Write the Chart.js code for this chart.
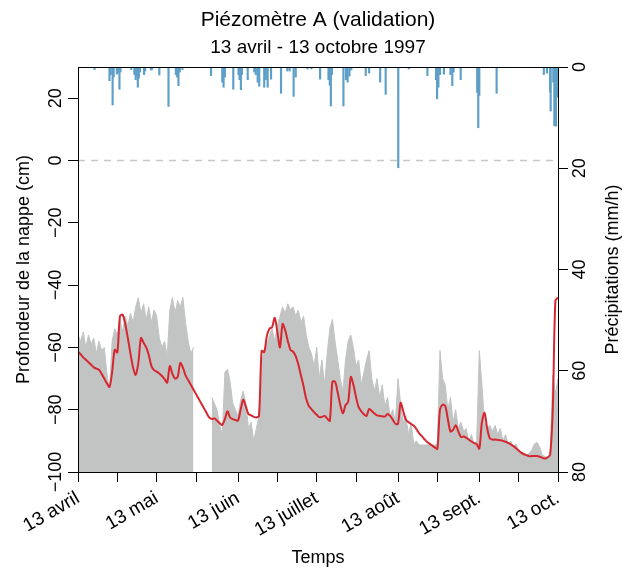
<!DOCTYPE html>
<html lang="fr">
<head>
<meta charset="utf-8">
<title>Piézomètre A (validation)</title>
<script src="https://cdn.jsdelivr.net/npm/chart.js@4.4.1/dist/chart.umd.min.js"></script>
<style>
  html, body { margin: 0; padding: 0; background: #fff; }
  #wrap { width: 622px; height: 570px; }
</style>
</head>
<body>
<div id="wrap"><canvas id="piezoChart" width="622" height="570"></canvas></div>
<script>
// Axe du temps : jours écoulés depuis le 13 avril 1997
const tickDays = [0, 15, 30, 45, 61, 76, 91, 106, 122, 137, 153, 168, 183];
const labelDays = [0, 30, 61, 91, 122, 153, 183];
const labelTexts = ['13 avril', '13 mai', '13 juin', '13 juillet', '13 août', '13 sept.', '13 oct.'];
const depthTicks = [-100, -80, -60, -40, -20, 0, 20];
const rainTicks = [0, 20, 40, 60, 80];

// Niveau observé de la nappe (cm), un point par jour
const observedDepth = [
  -61.4, -62.2, -63.2, -64, -64.8, -65.6, -66.4, -66.8, -67.2, -68.5,
  -70, -71.5, -72.7, -68, -60.8, -61.6, -50, -49.5, -52.5, -57,
  -62, -66.5, -68.8, -65, -57, -58.5, -60, -62.5, -66, -67.3,
  -67.8, -68.4, -69.2, -70.2, -71.3, -66, -68.5, -70, -69.5, -65,
  -66.5, -69, -70.5, -72, -73.5, -75, -76.5, -78, -79.5, -81,
  -82.5, -83, -82.8, -83.5, -84.3, -84.9, -83, -80.5, -82.5, -83,
  -83.3, -83.5, -80, -76.8, -79, -81.4, -81.8, -82.3, -82.5, -82,
  -61.1, -61.5, -56.3, -54, -53.5, -50.5, -55, -60, -52.5, -54.5,
  -58, -60.8, -61.4, -62.8, -65.5, -69, -72.5, -76.5, -78.8, -79.8,
  -80.8, -81.6, -82.4, -82.3, -82, -82.8, -83.6, -71, -71, -74.5,
  -78.5, -81.2, -78.5, -77.5, -69.5, -72, -76, -79.2, -80.5, -81.5,
  -82, -79.8, -80.4, -81.2, -81.8, -82, -82.1, -82.2, -81.4, -82,
  -83.2, -84.5, -84.5, -77.8, -80.5, -83.2, -84, -84.6, -85.1, -86.2,
  -87.5, -88.4, -89.4, -90.3, -90.9, -91.5, -92.1, -92.6, -80, -78.4,
  -78.8, -83, -87, -86.5, -85, -87, -88.8, -88.6, -89, -89.6,
  -90.2, -90.7, -91.1, -92.5, -84, -81, -86, -89.2, -89.6, -89.6,
  -89.7, -89.8, -90, -90.3, -90.7, -91.1, -91.7, -92.4, -93.1, -93.8,
  -94.3, -94.6, -94.9, -94.9, -94.9, -94.9, -95.1, -95.4, -95.7, -95.3,
  -94.5, -80, -45, -44
];

// Enveloppe des simulations (cm), null = pas de données
const simulatedDepth = [
  -56, -58, -55, -60, -56, -59, -57, -62, -58, -61,
  -60, -68, -74, -58, -54, -56, -51, -55, -50, -53,
  -49, -52, -47, -44, -49, -46, -51, -47, -52, -48,
  -50, -57, -60, -58, -63, -48, -44, -49, -45, -47,
  -44, -52, -58, -62, -60, null, null, null, null, null,
  null, -76, -78, -80, -85, -88, -68, -67, -71, -78,
  -80, -82, -77, -74, -78, -86, -84, -90, -86, -82,
  -65, -61, -59, -56, -54, -58, -53, -50, -47, -49,
  -46, -48, -47, -50, -48, -52, -50, -56, -60, -62,
  -66, -60, -70, -64, -72, -62, -54, -51, -58, -64,
  -70, -74, -64, -58, -56, -60, -66, -64, -72, -68,
  -64, -61, -70, -74, -70, -76, -72, -79, -76, -82,
  -80, -84, -70, -78, -84, -82, -88, -84, -91, -90,
  -91.3, -91.3, -91.3, -91.3, -91.3, -91.3, -91.3, -91.3, -61, -70,
  -72, -80, -76, -84, -80, -86, -84, -87, -86, -90,
  -88, -91, -90, -61, -72, -84, -86, -85, -87, -85,
  -88, -86, -90, -88, -91, -90, -92, -91, -93, -94,
  -94, -94.5, -94, -93, -91, -90.5, -92, -94.5, -95, -95.5,
  -95, -69, -75, -70
];

// Précipitations (mm/h) : instant (jour) et intensité
const rainDays = [
  6.3, 12.0, 12.5, 13.2, 13.6, 14.8, 15.3, 15.8, 16.2, 20.3,
  21.5, 22.0, 22.4, 22.8, 23.2, 23.6, 25.2, 25.6, 27.8, 28.2,
  31.0, 34.5, 37.3, 37.8, 38.3, 38.8, 39.8, 50.7, 55.0, 55.5,
  56.0, 59.2, 61.2, 61.6, 62.1, 62.5, 64.7, 67.2, 67.8, 68.5,
  69.1, 71.0, 71.6, 72.3, 73.6, 77.4, 79.8, 80.7, 82.2, 83.0,
  87.5, 89.0, 92.3, 95.5, 96.0, 96.4, 96.8, 101.2, 102.2, 102.8,
  103.5, 104.2, 109.7, 111.0, 115.2, 117.3, 122.1, 126.1, 133.2, 136.5,
  136.9, 137.4, 138.0, 139.5, 142.0, 142.7, 143.2, 145.9, 152.2, 152.6,
  153.0, 159.6, 177.6, 178.8, 180.0, 180.2, 181.2, 181.6, 182.2, 182.6
];
const rainMm = [
  0.5, 2.7, 1.5, 7.5, 2.0, 1.4, 1.2, 4.4, 1.0, 0.5,
  1.5, 2.5, 1.8, 4.0, 2.2, 1.0, 1.5, 0.8, 0.6, 0.5,
  1.6, 7.8, 1.5, 2.0, 3.7, 1.0, 0.5, 1.7, 3.0, 4.0,
  2.0, 4.4, 1.5, 2.5, 4.5, 1.5, 2.5, 1.0, 1.5, 3.0,
  3.8, 4.0, 2.5, 4.0, 2.4, 5.2, 0.8, 0.8, 5.8, 2.0,
  0.4, 0.4, 2.4, 2.5, 3.6, 7.7, 1.5, 7.7, 2.5, 3.0,
  1.8, 0.6, 1.7, 1.2, 3.0, 5.4, 19.9, 0.4, 1.7, 2.5,
  6.3, 4.0, 1.5, 1.4, 1.5, 3.7, 1.0, 2.5, 5.0, 12.0,
  5.6, 5.2, 1.5, 1.2, 5.0, 8.7, 3.0, 11.6, 11.7, 6.0
];

const FONT = '"Liberation Sans", Arial, Helvetica, sans-serif';
Chart.defaults.font.family = FONT;
Chart.defaults.color = '#000';

function dayPoints(values) {
  return values.map((v, i) => ({ x: i, y: v }));
}

// Titres, étiquettes verticales des axes y et cadre
const decorPlugin = {
  id: 'decor',
  afterDraw(chart) {
    const { ctx, chartArea: a, scales } = chart;
    ctx.save();
    ctx.strokeStyle = '#000';
    ctx.lineWidth = 1;
    ctx.strokeRect(a.left + 0.5, a.top + 0.5, a.right - a.left, a.bottom - a.top);

    ctx.fillStyle = '#000';
    ctx.textAlign = 'center';
    ctx.textBaseline = 'alphabetic';
    ctx.font = '21px ' + FONT;
    ctx.fillText('Piézomètre A (validation)', (a.left + a.right) / 2, 26);
    ctx.font = '19px ' + FONT;
    ctx.fillText('13 avril - 13 octobre 1997', (a.left + a.right) / 2, 53);
    ctx.font = '18px ' + FONT;
    ctx.fillText('Temps', (a.left + a.right) / 2, 563);

    const midY = (a.top + a.bottom) / 2;
    const vertical = (text, x, y, baseline) => {
      ctx.save();
      ctx.translate(x, y);
      ctx.rotate(-Math.PI / 2);
      ctx.textBaseline = baseline;
      ctx.fillText(text, 0, 0);
      ctx.restore();
    };
    vertical('Profondeur de la nappe (cm)', 29, midY, 'alphabetic');
    vertical('Précipitations (mm/h)', 604, midY, 'top');

    depthTicks.forEach(v => {
      const label = v < 0 ? '\u2212' + Math.abs(v) : String(v);
      vertical(label, 61, scales.yDepth.getPixelForValue(v), 'alphabetic');
    });
    rainTicks.forEach(v => {
      vertical(String(v), 585, scales.yRain.getPixelForValue(v), 'alphabetic');
    });
    ctx.restore();
  }
};

const tickGrid = {
  drawOnChartArea: false,
  drawTicks: true,
  tickLength: 10,
  offset: false,
  color: '#000',
  lineWidth: 1
};

new Chart(document.getElementById('piezoChart'), {
  data: {
    datasets: [
      {
        type: 'line',
        label: 'Simulations',
        data: dayPoints(simulatedDepth),
        yAxisID: 'yDepth',
        borderColor: '#c2c4c3',
        backgroundColor: '#c2c4c3',
        borderWidth: 1,
        pointRadius: 0,
        tension: 0,
        spanGaps: false,
        fill: 'start',
        order: 4
      },
      {
        type: 'line',
        label: 'Référence',
        data: [{ x: 0, y: 0 }, { x: 183, y: 0 }],
        yAxisID: 'yDepth',
        borderColor: '#c8c8c8',
        borderWidth: 1.4,
        borderDash: [7, 6],
        pointRadius: 0,
        fill: false,
        order: 3
      },
      {
        type: 'bar',
        label: 'Précipitations',
        data: rainDays.map((d, i) => ({ x: d, y: rainMm[i] })),
        yAxisID: 'yRain',
        backgroundColor: '#5e9fc8',
        barThickness: 1.5,
        order: 2
      },
      {
        type: 'line',
        label: 'Observé',
        data: dayPoints(observedDepth),
        yAxisID: 'yDepth',
        borderColor: '#d62730',
        borderWidth: 2,
        pointRadius: 0,
        tension: 0.3,
        fill: false,
        order: 1
      }
    ]
  },
  options: {
    responsive: false,
    animation: false,
    devicePixelRatio: 1,
    layout: { padding: { top: 67, left: 0, right: 0, bottom: 0 } },
    plugins: {
      legend: { display: false },
      tooltip: { enabled: false }
    },
    scales: {
      x: {
        type: 'linear',
        min: 0,
        max: 183,
        offset: false,
        afterBuildTicks: s => { s.ticks = tickDays.map(v => ({ value: v })); },
        afterFit: s => { s.height = 98; },
        grid: tickGrid,
        border: { display: false },
        ticks: {
          autoSkip: false,
          minRotation: 30,
          maxRotation: 30,
          padding: 5,
          font: { size: 19 },
          callback: v => {
            const i = labelDays.indexOf(v);
            return i >= 0 ? labelTexts[i] : '';
          }
        }
      },
      yDepth: {
        type: 'linear',
        position: 'left',
        min: -100,
        max: 30,
        afterBuildTicks: s => { s.ticks = depthTicks.map(v => ({ value: v })); },
        afterFit: s => { s.width = 78; },
        grid: tickGrid,
        border: { display: false },
        ticks: { display: false }
      },
      yRain: {
        type: 'linear',
        position: 'right',
        min: 0,
        max: 80,
        reverse: true,
        afterBuildTicks: s => { s.ticks = rainTicks.map(v => ({ value: v })); },
        afterFit: s => { s.width = 64; },
        grid: tickGrid,
        border: { display: false },
        ticks: { display: false }
      }
    }
  },
  plugins: [decorPlugin]
});
</script>
</body>
</html>
